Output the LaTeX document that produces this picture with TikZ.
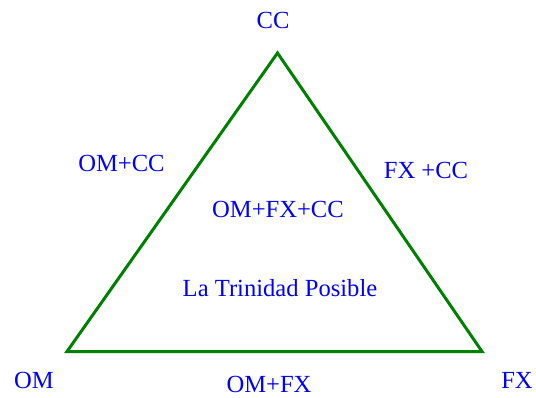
\documentclass[tikz,border=0pt]{standalone}
\usepackage{fontspec}
\setmainfont{Liberation Serif}
\definecolor{trigreen}{RGB}{0,128,0}
\definecolor{lblblue}{RGB}{0,0,255}
\tikzset{
  lbl/.style={text=lblblue,inner sep=0pt,anchor=base,font=\fontsize{24.6}{28}\selectfont},
  side/.style={draw=trigreen,line width=3pt,line join=miter}
}
\begin{document}
\begin{tikzpicture}[x=1pt,y=-1pt]
  \useasboundingbox (0,0) rectangle (536,397);
  \coordinate (top) at (277.5,53);
  \coordinate (left) at (67,351.5);
  \coordinate (right) at (482,351.5);
  \draw[side] (top) -- (left) -- (right) -- cycle;
  \node[lbl] (cc) at (273,28) {CC};
  \node[lbl] (om) at (34,388) {OM};
  \node[lbl] (fx) at (517,388) {FX};
  \node[lbl] (omcc) at (121.5,171.5) {OM+CC};
  \node[lbl] (fxcc) at (426,178) {FX +CC};
  \node[lbl] (omfx) at (269,392) {OM+FX};
  \node[lbl] (all) at (278,217) {OM+FX+CC};
  \node[lbl] (trinidad) at (280,296) {La Trinidad Posible};
\end{tikzpicture}
\end{document}
